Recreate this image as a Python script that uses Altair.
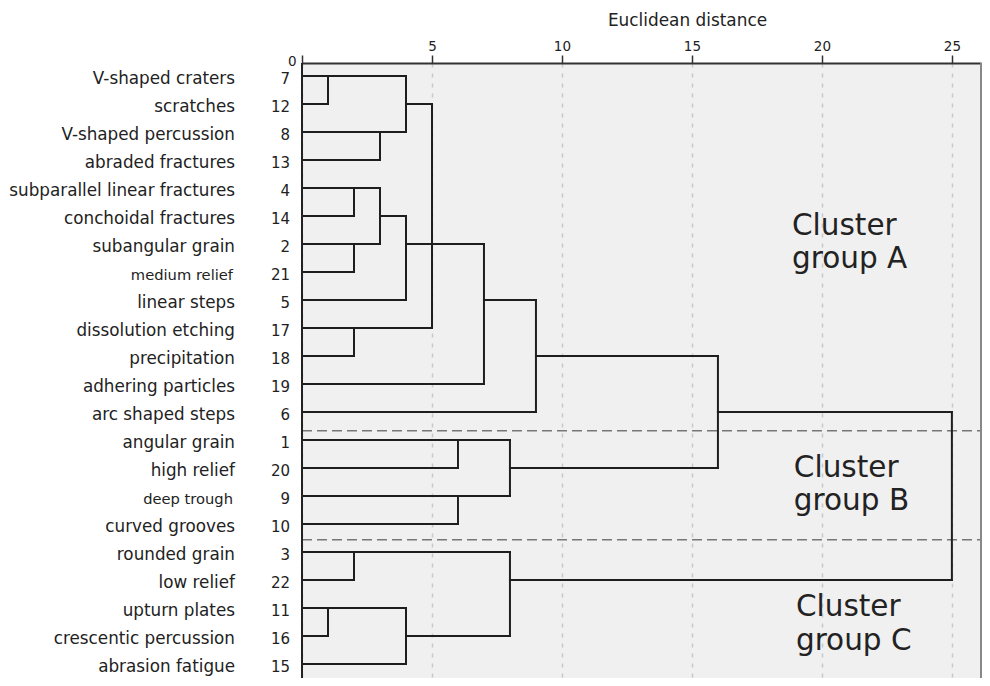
import altair as alt
import pandas as pd

# ---------------- data ----------------
names = ["V-shaped craters", "scratches", "V-shaped percussion", "abraded fractures",
         "subparallel linear fractures", "conchoidal fractures", "subangular grain",
         "medium relief", "linear steps", "dissolution etching", "precipitation",
         "adhering particles", "arc shaped steps", "angular grain", "high relief",
         "deep trough", "curved grooves", "rounded grain", "low relief",
         "upturn plates", "crescentic percussion", "abrasion fatigue"]
case_numbers = [7, 12, 8, 13, 4, 14, 2, 21, 5, 17, 18, 19, 6, 1, 20, 9, 10, 3, 22, 11, 16, 15]
small_names = ["medium relief", "deep trough"]

# internal nodes of the dendrogram: id, merge distance, row where its line leaves, children
merge_ids = ["A1", "A2", "A3", "A4", "A5", "A6", "A7", "A8", "A9", "A10", "A11",
             "B1", "B2", "B3", "R1", "C1", "C2", "C3", "C4", "ROOT"]
merge_heights = [1, 3, 4, 2, 2, 3, 4, 2, 5, 7, 9, 6, 6, 8, 16, 2, 1, 4, 8, 25]
merge_rows = [1, 3, 2, 5, 7, 6, 7, 10, 7, 9, 11, 14, 16, 15, 13, 18, 20, 21, 19, 16]
merge_children = [["L1", "L2"], ["L3", "L4"], ["A1", "A2"], ["L5", "L6"], ["L7", "L8"],
                  ["A4", "A5"], ["A6", "L9"], ["L10", "L11"], ["A3", "A7", "A8"],
                  ["A9", "L12"], ["A10", "L13"], ["L14", "L15"], ["L16", "L17"],
                  ["B1", "B2"], ["A11", "B3"], ["L18", "L19"], ["L20", "L21"],
                  ["C2", "L22"], ["C1", "C3"], ["R1", "C4"]]

x_ticks = [0, 5, 10, 15, 20, 25]
x_max = 26.12
group_separators = [13.67, 17.56]
cluster_lines = ["Cluster", "group A", "Cluster", "group B", "Cluster", "group C"]
cluster_rows = [6.67, 7.86, 15.32, 16.5, 20.29, 21.51]
cluster_x = [18.85, 18.85, 18.92, 18.92, 19.0, 19.0]

# ---------------- build tables ----------------
pos = {f"L{i + 1}": (0.0, i + 1) for i in range(len(names))}
for mid, h, r in zip(merge_ids, merge_heights, merge_rows):
    pos[mid] = (h, r)

segs = []
for mid, h, ch in zip(merge_ids, merge_heights, merge_children):
    rows = [pos[c][1] for c in ch]
    segs.append(dict(x=h, x2=h, y=min(rows), y2=max(rows)))
    for c in ch:
        cx, cy = pos[c]
        segs.append(dict(x=cx, x2=h, y=cy, y2=cy))
seg_df = pd.DataFrame(segs)

rows_df = pd.DataFrame({"row": list(range(1, len(names) + 1)), "name": names,
                        "num": [str(n) for n in case_numbers]})
big_df = rows_df[~rows_df["name"].isin(small_names)]
small_df = rows_df[rows_df["name"].isin(small_names)]
sep_df = pd.DataFrame({"y": group_separators})
clu_df = pd.DataFrame({"text": cluster_lines, "row": cluster_rows, "x": cluster_x})

FONT = "DejaVu Sans"
XS = alt.Scale(domain=[0, x_max], nice=False, zero=False)
YS = alt.Scale(domain=[0.536, 22.50], nice=False, zero=False, reverse=True)

x_axis = alt.Axis(
    orient="top", values=x_ticks, title="Euclidean distance",
    titleFont=FONT, titleFontSize=16.9, titleFontWeight="normal", titleColor="#222",
    titleX=385, titleY=-38, titleAlign="center", titleBaseline="alphabetic", titleAnchor="middle",
    labelFont=FONT, labelFontSize=13.5, labelColor="#222", labelBaseline="alphabetic",
    labelFlush=False, labelOverlap=False,
    labelAlign={"condition": {"test": "datum.value === 0", "value": "right"}, "value": "center"},
    labelOffset={"condition": {"test": "datum.value === 0", "value": -6}, "value": 0},
    labelPadding={"condition": {"test": "datum.value === 0", "value": -10}, "value": 5},
    tickSize=8, tickColor="#333", tickWidth=1.5,
    domainColor="#333", domainWidth=2,
    grid=True, gridColor="#c8c8c8", gridDash=[4, 6], gridWidth=1.5,
)

base_seg = alt.Chart(seg_df)
grid_holder = base_seg.mark_rule(strokeWidth=0, opacity=0).encode(
    x=alt.X("x:Q", scale=XS, axis=x_axis),
    y=alt.Y("y:Q", scale=YS, axis=None),
)

separators = alt.Chart(sep_df).mark_rule(color="#777", strokeWidth=1.5, strokeDash=[10, 5]).encode(
    y=alt.Y("y:Q", scale=YS, axis=None),
    x=alt.datum(0, scale=XS),
    x2=alt.datum(x_max),
)

dendro = base_seg.mark_rule(color="#1e1e1e", strokeWidth=2, strokeCap="square").encode(
    x=alt.X("x:Q", scale=XS),
    x2="x2:Q",
    y=alt.Y("y:Q", scale=YS),
    y2="y2:Q",
)

left_border = alt.Chart(sep_df).mark_rule(color="#222", strokeWidth=2).encode(
    x=alt.datum(0, scale=XS))
right_border = alt.Chart(sep_df).mark_rule(color="#888", strokeWidth=2).encode(
    x=alt.datum(x_max, scale=XS))

name_big = alt.Chart(big_df).mark_text(
    align="right", baseline="alphabetic", font=FONT, fontSize=16.8, color="#222", dy=8.5
).encode(x=alt.value(-67), y=alt.Y("row:Q", scale=YS), text="name:N")
name_small = alt.Chart(small_df).mark_text(
    align="right", baseline="alphabetic", font=FONT, fontSize=14.7, color="#222", dy=8
).encode(x=alt.value(-69), y=alt.Y("row:Q", scale=YS), text="name:N")
nums = alt.Chart(rows_df).mark_text(
    align="right", baseline="alphabetic", font=FONT, fontSize=15, color="#222", dy=8
).encode(x=alt.value(-12), y=alt.Y("row:Q", scale=YS), text="num:N")

clusters = alt.Chart(clu_df).mark_text(
    align="left", baseline="alphabetic", font=FONT, fontSize=29.5, color="#222"
).encode(x=alt.X("x:Q", scale=XS), y=alt.Y("row:Q", scale=YS), text="text:N")

chart = alt.layer(
    grid_holder, separators, dendro, left_border, right_border,
    name_big, name_small, nums, clusters
).properties(
    width=679, height=615,
    autosize=alt.AutoSizeParams(type="none"),
    padding={"left": 294, "top": 55, "right": 1, "bottom": 0},
    background="white",
).configure_view(fill="#f0f0f0", stroke="transparent")

chart.save("out.html", embed_options={"renderer": "svg", "actions": False})
